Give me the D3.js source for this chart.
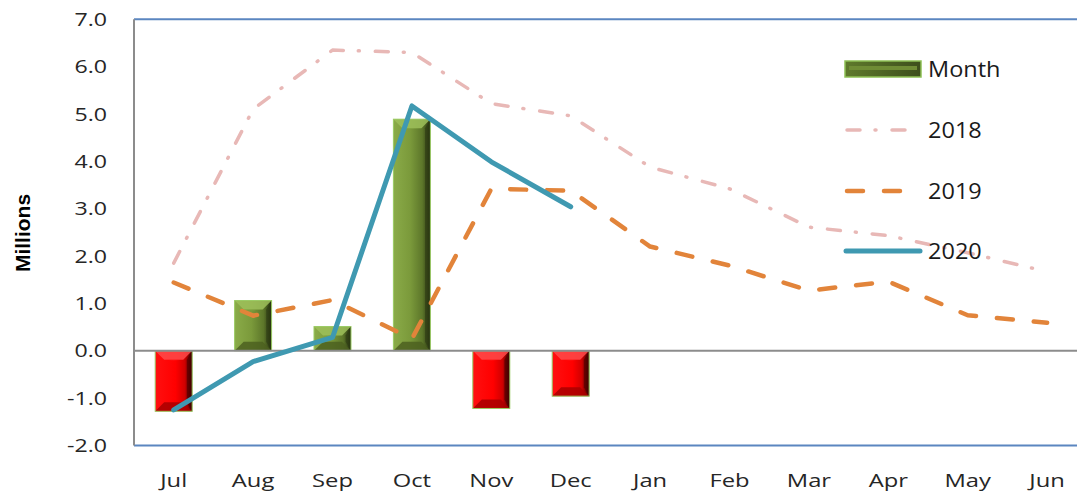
<!DOCTYPE html>
<html><head><meta charset="utf-8">
<script src="https://cdn.jsdelivr.net/npm/d3@7"></script>
<style>html,body{margin:0;padding:0;background:#fff;overflow:hidden}</style>
</head><body><svg id="c" width="1077" height="495"></svg>
<script>
const months = ["Jul","Aug","Sep","Oct","Nov","Dec","Jan","Feb","Mar","Apr","May","Jun"];
const monthChange = [-1.28, 1.06, 0.51, 4.89, -1.22, -0.96];
const s2018 = [1.85, 5.1, 6.35, 6.3, 5.22, 4.96, 3.88, 3.42, 2.61, 2.43, 2.07, 1.67];
const s2019 = [1.44, 0.74, 1.07, 0.25, 3.42, 3.38, 2.2, 1.8, 1.27, 1.46, 0.75, 0.59];
const s2020 = [-1.25, -0.23, 0.28, 5.17, 3.99, 3.04];
const yTicks = [-2,-1,0,1,2,3,4,5,6,7];
const legendLabels = ["Month","2018","2019","2020"];

const svg = d3.select("#c");
const pLeft = 134, pTop = 19.3, pBottom = 445.4, band = 79.4;
const x = d3.scaleBand().domain(months).range([pLeft, pLeft + band*months.length]).paddingInner(0).paddingOuter(0);
const y = d3.scaleLinear().domain([-2,7]).range([pBottom, pTop]);
const cx = m => x(m) + x.bandwidth()/2;
const fontF = "'Open Sans', 'Liberation Sans', sans-serif";

const defs = svg.append("defs");
function grad(id, stops){
  const g = defs.append("linearGradient").attr("id", id).attr("x1","0%").attr("x2","100%").attr("y1","0%").attr("y2","0%");
  stops.forEach(s => g.append("stop").attr("offset", s[0]).attr("stop-color", s[1]));
}
grad("gGreen", [["0%","#8aab48"],["45%","#7b9a3b"],["78%","#5d772a"],["100%","#26310f"]]);
grad("gRed", [["0%","#ff1010"],["55%","#ff0000"],["80%","#d00000"],["100%","#3a0000"]]);
grad("gLeg", [["0%","#5f7a2c"],["100%","#3d4f1c"]]);

// plot borders
svg.append("line").attr("x1",pLeft).attr("x2",1077).attr("y1",pTop).attr("y2",pTop).attr("stroke","#5b86c0").attr("stroke-width",2);
svg.append("line").attr("x1",pLeft).attr("x2",1077).attr("y1",pBottom).attr("y2",pBottom).attr("stroke","#5b86c0").attr("stroke-width",2);

// y axis
const yAxis = d3.axisLeft(y).tickValues(yTicks).tickSize(0).tickPadding(0).tickFormat(d => d.toFixed(1));
const ya = svg.append("g").attr("transform",`translate(${pLeft},0)`).call(yAxis);
ya.select(".domain").remove();
ya.selectAll("text").attr("font-family",fontF).attr("font-size",19).attr("fill","#262626")
  .attr("x",0).attr("transform","translate(-27,0) scale(1.22,1)");

// x axis labels
const xAxis = d3.axisBottom(x).tickSize(0).tickPadding(0);
const xa = svg.append("g").attr("transform",`translate(0,${pBottom})`).call(xAxis);
xa.select(".domain").remove();
xa.selectAll("text").attr("font-family",fontF).attr("font-size",19).attr("fill","#262626")
  .attr("dy",null).attr("y",0).attr("transform","translate(0,42) scale(1.25,1)");

// Millions title
svg.append("text").attr("transform","translate(30,233) rotate(-90)").attr("text-anchor","middle")
  .attr("font-family","'Liberation Sans', Arial, sans-serif").attr("font-weight","bold").attr("font-size",21).attr("fill","#000").text("Millions");

// bars
const bw = x.bandwidth()*0.466;
const bars = svg.append("g");
monthChange.forEach((v,i) => {
  const m = months[i];
  const x0 = cx(m) - bw/2, x1 = cx(m) + bw/2;
  const yt = y(Math.max(0,v)), yb = y(Math.min(0,v));
  const h = yb - yt;
  const pos = v >= 0;
  const g = bars.append("g");
  g.append("rect").attr("x",x0).attr("y",yt).attr("width",bw).attr("height",h)
    .attr("fill", pos ? "url(#gGreen)" : "url(#gRed)");
  const b = Math.min(9, h/2.2);
  g.append("path").attr("d",`M${x0},${yt}L${x1},${yt}L${x1-b},${yt+b}L${x0+b},${yt+b}Z`)
    .attr("fill", pos ? "#9dc05a" : "#ff4a4a").attr("opacity",0.85);
  g.append("path").attr("d",`M${x0+b},${yt+b}L${(x0+x1)/2},${yt+b*1.1}L${x1-b},${yt+b}Z`)
    .attr("fill", pos ? "#86a844" : "#ff2020").attr("opacity",0.6);
  g.append("path").attr("d",`M${x0},${yb}L${x1},${yb}L${x1-b},${yb-b}L${x0+b},${yb-b}Z`)
    .attr("fill", pos ? "#4c6020" : "#a80000").attr("opacity",0.85);
  g.append("path").attr("d",`M${x1},${yt}L${x1},${yb}L${x1-b*0.6},${yb-b}L${x1-b*0.6},${yt+b}Z`)
    .attr("fill", pos ? "#2a3612" : "#400000").attr("opacity",0.55);
  g.append("rect").attr("x",x0).attr("y",yt).attr("width",bw).attr("height",h)
    .attr("fill","none").attr("stroke","#9bcb64").attr("stroke-width",1);
});

// left axis & zero line
svg.append("line").attr("x1",pLeft).attr("x2",1077).attr("y1",y(0)).attr("y2",y(0)).attr("stroke","#8c8c8c").attr("stroke-width",2);
svg.append("line").attr("x1",pLeft).attr("x2",pLeft).attr("y1",pTop).attr("y2",pBottom).attr("stroke","#8c8c8c").attr("stroke-width",2);

// lines
const line = d3.line().x((d,i)=>cx(months[i])).y(d=>y(d));
const c2018 = "#e8b8b6", c2019 = "#e2843a", c2020 = "#3f99b1";
svg.append("path").attr("d",line(s2018)).attr("fill","none").attr("stroke",c2018).attr("stroke-width",3.5)
  .attr("stroke-linecap","round").attr("stroke-linejoin","round").attr("stroke-dasharray","13,15,1,16");
svg.append("path").attr("d",line(s2019)).attr("fill","none").attr("stroke",c2019).attr("stroke-width",4.5)
  .attr("stroke-linecap","round").attr("stroke-linejoin","round").attr("stroke-dasharray","16,21");
svg.append("path").attr("d",line(s2020)).attr("fill","none").attr("stroke",c2020).attr("stroke-width",5)
  .attr("stroke-linecap","round").attr("stroke-linejoin","round");

// legend
const lg = svg.append("g");
const lx0 = 845, lx1 = 921, ly = [69, 130, 191, 251];
lg.append("rect").attr("x",lx0).attr("y",ly[0]-8).attr("width",lx1-lx0).attr("height",16).attr("fill","url(#gLeg)").attr("stroke","#8fc155").attr("stroke-width",1.5);
lg.append("rect").attr("x",lx0+4).attr("y",ly[0]-3).attr("width",lx1-lx0-8).attr("height",4).attr("fill","#6f8c35");
lg.append("line").attr("x1",lx0+2).attr("x2",lx1-15).attr("y1",ly[1]).attr("y2",ly[1]).attr("stroke",c2018).attr("stroke-width",3.5).attr("stroke-linecap","round").attr("stroke-dasharray","13,15,1,16");
lg.append("line").attr("x1",lx0+2).attr("x2",lx1-15).attr("y1",ly[2]).attr("y2",ly[2]).attr("stroke",c2019).attr("stroke-width",4.5).attr("stroke-linecap","round").attr("stroke-dasharray","16,21");
lg.append("line").attr("x1",lx0+1).attr("x2",lx1-1).attr("y1",ly[3]).attr("y2",ly[3]).attr("stroke",c2020).attr("stroke-width",5).attr("stroke-linecap","round");
legendLabels.forEach((t,i)=>{
  lg.append("text").attr("x",0).attr("y",0).attr("transform",`translate(928,${ly[i]+8}) scale(1.12,1)`)
    .attr("font-family",fontF).attr("font-size",21).attr("fill","#1a1a1a").text(t);
});
</script></body></html>
